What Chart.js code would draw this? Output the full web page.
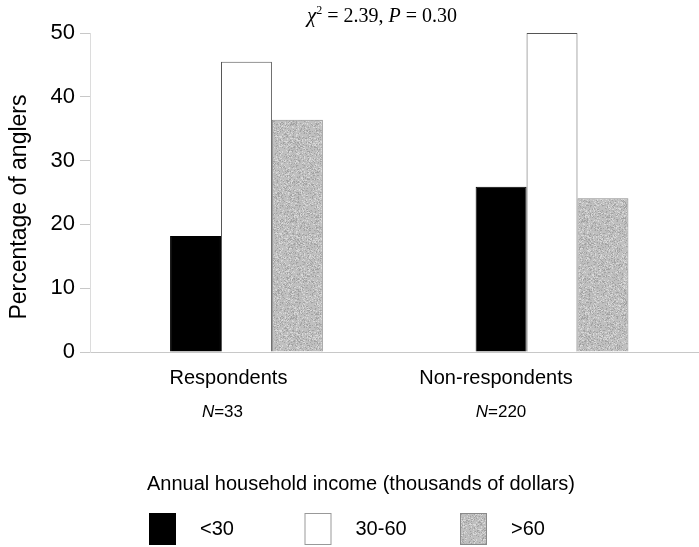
<!DOCTYPE html>
<html><head><meta charset="utf-8">
<script src="https://cdn.jsdelivr.net/npm/chart.js@4/dist/chart.umd.min.js"></script>
<style>html,body{margin:0;padding:0;background:#fff;overflow:hidden}#wrap{width:699px;height:547px;position:relative}</style>
</head><body><div id="wrap"><canvas id="c" width="699" height="547"></canvas></div>
<script>
const categories = ["Respondents", "Non-respondents"];
const sampleSizes = ["33", "220"];
const seriesNames = ["<30", "30-60", ">60"];
const incomeLt30 = [18.2, 25.9];
const income30to60 = [45.5, 50.0];
const incomeGt60 = [36.4, 24.1];
const yTicks = [0, 10, 20, 30, 40, 50];
const legendTitle = "Annual household income (thousands of dollars)";
const yTitle = "Percentage of anglers";

// deterministic speckle texture for the grey bars
function makeTexture() {
  const c = document.createElement('canvas'); c.width = 97; c.height = 97;
  const g = c.getContext('2d');
  g.fillStyle = '#c0c0c0'; g.fillRect(0, 0, 97, 97);
  let s = 12345;
  const next = () => { s = (s * 16807) % 2147483647; return s; };
  for (let i = 0; i < 5200; i++) {
    const x = next() % 97, y = next() % 97, k = next() % 3;
    g.fillStyle = k === 0 ? '#a2a2a2' : (k === 1 ? '#d8d8d8' : '#b4b4b4');
    g.fillRect(x, y, 1, 1);
  }
  return g.createPattern(c, 'repeat');
}
const grey = makeTexture();

const fills = ['#000000', '#ffffff', grey];
const borders = ['#000000', '#555555', '#8a8a8a'];
const series = [incomeLt30, income30to60, incomeGt60];

const toPts = arr => arr.map((v, i) => ({ x: i, y: v }));

const overlay = {
  id: 'overlay',
  afterDraw(chart) {
    const ctx = chart.ctx;
    const xs = chart.scales.x;
    ctx.save();
    ctx.fillStyle = '#000';
    // statistic line
    ctx.textBaseline = 'alphabetic';
    const parts = [
      ['italic 21px "Liberation Serif"', 'χ'],
      ['12px "Liberation Serif"', '2', -8],
      ['20px "Liberation Serif"', ' = 2.39, '],
      ['italic 20px "Liberation Serif"', 'P'],
      ['20px "Liberation Serif"', ' = 0.30']
    ];
    let total = 0;
    parts.forEach(p => { ctx.font = p[0]; total += ctx.measureText(p[1]).width; });
    let x = 382 - total / 2;
    parts.forEach(p => {
      ctx.font = p[0];
      ctx.fillText(p[1], x, 22 + (p[2] || 0));
      x += ctx.measureText(p[1]).width;
    });
    // y title
    ctx.save();
    ctx.translate(20, 207);
    ctx.rotate(-Math.PI / 2);
    ctx.font = '23px Arial, "Liberation Sans"';
    ctx.textAlign = 'center'; ctx.textBaseline = 'middle';
    ctx.fillText(yTitle, 0, 0);
    ctx.restore();
    // category labels
    const labelShift = [-18, -56];
    const nShift = [-6, 5];
    categories.forEach((cat, i) => {
      const cx = xs.getPixelForValue(i) + labelShift[i];
      ctx.textAlign = 'center'; ctx.textBaseline = 'middle';
      ctx.font = '20px Arial, "Liberation Sans"';
      ctx.fillText(cat, cx, 378);
      ctx.font = 'italic 17px Arial, "Liberation Sans"';
      const nW = ctx.measureText('N').width;
      ctx.font = '17px Arial, "Liberation Sans"';
      const rest = '=' + sampleSizes[i];
      const rW = ctx.measureText(rest).width;
      const sx = cx + nShift[i] - (nW + rW) / 2;
      ctx.textAlign = 'left';
      ctx.font = 'italic 17px Arial, "Liberation Sans"';
      ctx.fillText('N', sx, 412);
      ctx.font = '17px Arial, "Liberation Sans"';
      ctx.fillText(rest, sx + nW, 412);
    });
    // legend
    ctx.textAlign = 'center'; ctx.textBaseline = 'middle';
    ctx.font = '20px Arial, "Liberation Sans"';
    ctx.fillText(legendTitle, 361, 484);
    chart.data.datasets.forEach((ds, i) => {
      const bx = 149 + i * 155.5;
      ctx.fillStyle = ds.backgroundColor;
      ctx.fillRect(bx, 513, 27, 32);
      ctx.strokeStyle = i === 1 ? '#999' : ds.borderColor;
      ctx.lineWidth = 1;
      ctx.strokeRect(bx + 0.5, 513.5, 26, 31);
      ctx.fillStyle = '#000';
      ctx.textAlign = 'left';
      ctx.font = '20px Arial, "Liberation Sans"';
      ctx.fillText(ds.label, bx + 51, 529);
    });
    ctx.restore();
  }
};

new Chart(document.getElementById('c'), {
  type: 'bar',
  data: {
    datasets: series.map((s, i) => ({
      label: seriesNames[i],
      data: toPts(s),
      backgroundColor: fills[i],
      borderColor: borders[i],
      borderWidth: 1,
      borderSkipped: 'bottom',
      categoryPercentage: 0.5,
      barPercentage: 1
    }))
  },
  options: {
    responsive: false,
    animation: false,
    layout: { padding: { top: 33, bottom: 195, left: 0, right: 0 } },
    plugins: { legend: { display: false }, tooltip: { enabled: false }, title: { display: false } },
    scales: {
      x: {
        type: 'linear', min: -0.512, max: 1.481, bounds: 'data', offset: false,
        afterBuildTicks(s) { s.ticks = categories.map((c, i) => ({ value: i })); },
        ticks: { display: false },
        grid: { display: false, drawTicks: false, offset: false },
        border: { display: true, color: '#c8c8c8', width: 1 },
        afterFit(s) { s.height = 0; }
      },
      y: {
        min: 0, max: 50,
        afterBuildTicks(s) { s.ticks = yTicks.map(v => ({ value: v })); },
        ticks: { color: '#000', padding: 5, font: { family: 'Arial, "Liberation Sans"', size: 22 } },
        grid: { drawOnChartArea: false, drawTicks: true, tickLength: 10, color: '#c8c8c8' },
        border: { display: true, color: '#dcdcdc', width: 1 },
        afterFit(s) { s.width = 90; }
      }
    }
  },
  plugins: [overlay]
});
</script></body></html>
